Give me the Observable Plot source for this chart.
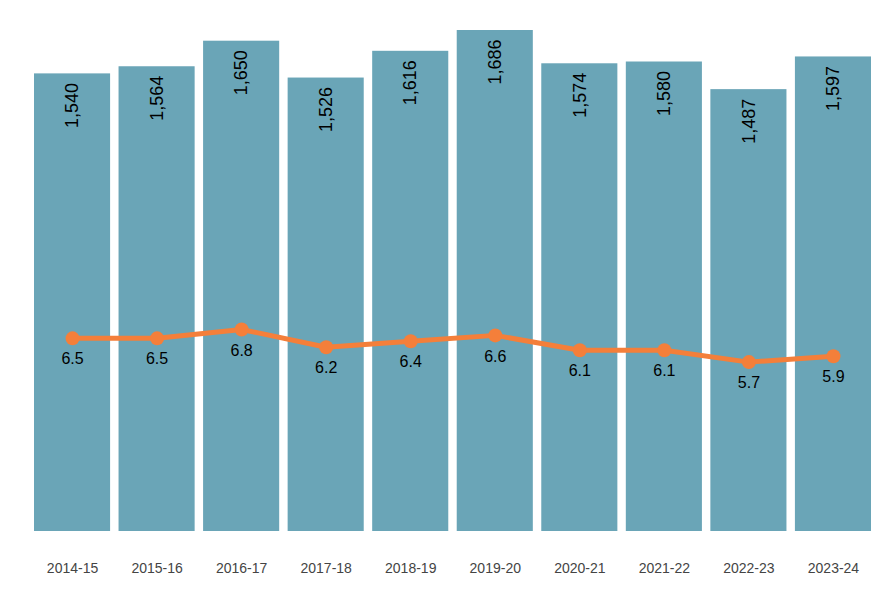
<!DOCTYPE html>
<html>
<head>
<meta charset="utf-8">
<script src="https://cdn.jsdelivr.net/npm/d3@7"></script>
<script src="https://cdn.jsdelivr.net/npm/@observablehq/plot@0.6"></script>
<style>
  body { margin: 0; background: #fff; }
  #chart svg { font-family: "Liberation Sans", Arial, sans-serif; }
</style>
</head>
<body>
<div id="chart"></div>
<script>
const years = ["2014-15","2015-16","2016-17","2017-18","2018-19","2019-20","2020-21","2021-22","2022-23","2023-24"];
const counts = [1540, 1564, 1650, 1526, 1616, 1686, 1574, 1580, 1487, 1597];
const rates = [6.5, 6.5, 6.8, 6.2, 6.4, 6.6, 6.1, 6.1, 5.7, 5.9];

const data = years.map((y, i) => ({year: y, count: counts[i], rate: rates[i], rateY: rates[i] * 100}));

const plot = Plot.plot({
  width: 890,
  height: 600,
  marginLeft: 34,
  marginRight: 19,
  marginTop: 30,
  marginBottom: 69,
  style: {fontFamily: "Liberation Sans, Arial, sans-serif", background: "#fff"},
  x: {domain: years, paddingInner: 0.1, paddingOuter: 0, round: false, label: null},
  y: {domain: [0, 1686], axis: null},
  marks: [
    Plot.barY(data, {x: "year", y: "count", fill: "#6aa5b7"}),
    Plot.text(data, {x: "year", y: "count", text: d => d3.format(",")(d.count), rotate: -90, textAnchor: "end", lineAnchor: "middle", dy: 9, fontSize: 18, fill: "#000"}),
    Plot.line(data, {x: "year", y: "rateY", stroke: "#f47f3a", strokeWidth: 5}),
    Plot.dot(data, {x: "year", y: "rateY", r: 7, fill: "#f47f3a"}),
    Plot.text(data, {x: "year", y: "rateY", text: d => d.rate.toFixed(1), dy: 21, fontSize: 16, fill: "#000"}),
    Plot.axisX({tickSize: 0, tickPadding: 32, fontSize: 14, color: "#444", label: null})
  ]
});
document.getElementById("chart").appendChild(plot);
</script>
</body>
</html>
